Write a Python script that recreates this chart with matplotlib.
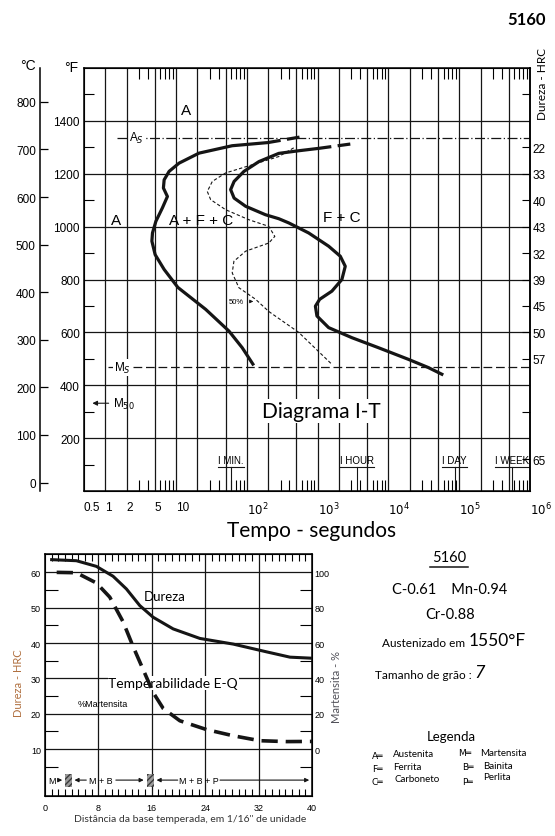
import numpy as np
import matplotlib.pyplot as plt
from matplotlib.patches import Rectangle
from matplotlib.lines import Line2D
from matplotlib.ticker import NullFormatter

W, H = 555, 837
ink = '#151515'
orig = 'Liberation Sans'   # text of the scanned chart
added = 'Lato'             # text typed over it

# ---------------- I-T diagram (time in s, temperature in F)
start_t = [199, 62, 21.1, 11.0, 7.97, 6.78, 6.62, 7.54, 6.41, 5.18, 4.64, 4.55, 5.06, 6.78, 10.6, 26.2, 55.8, 85.9, 125]
start_F = [1318, 1306, 1278, 1240, 1209, 1177, 1146, 1114, 1071, 1020, 976, 945, 894, 838, 770, 687, 605, 542, 475]
start_ext_t = [199, 595]
start_ext_F = [1318, 1340]
finish_t = [1033, 540, 282, 148, 91, 66, 59, 66, 96, 183, 282, 391, 747, 1429, 2089, 2455, 2199, 1590, 1067,
            929, 977, 1429, 3041, 7230, 19140, 36570, 59550]
finish_F = [1296, 1287, 1277, 1246, 1209, 1171, 1140, 1108, 1077, 1045, 1030, 1014, 976, 926, 888, 850, 800, 756, 725,
            699, 662, 618, 580, 542, 498, 467, 439]
finish_ext_t = [1033, 3013]
finish_ext_F = [1296, 1313]
half_t = [459, 282, 119, 50.1, 32.5, 27.6, 30.8, 50.1, 107, 204, 248, 204, 95.9, 65.6, 62.1, 77.1, 133, 204, 540, 1590]
half_F = [1298, 1265, 1234, 1203, 1171, 1133, 1102, 1064, 1026, 1001, 963, 938, 907, 869, 825, 769, 725, 679, 600, 479]

As_F, Ms_F, M50_F = 1336, 468, 332

grid_t = [1, 2, 5, 10, 20, 50, 100, 200, 500, 1e3, 2e3, 5e3, 1e4, 2e4, 5e4, 1e5, 2e5, 5e5]
xt_vals = [0.5, 1, 2, 5, 10, 1e2, 1e3, 1e4, 1e5, 1e6]
xt_lbls = ['0.5', '1', '2', '5', '10', '$10^2$', '$10^3$', '$10^4$', '$10^5$', '$10^6$']
minor_t = [m * 10.0 ** k for k in range(6) for m in (3, 4, 6, 7, 8, 9)]
F_ticks = [200, 400, 600, 800, 1000, 1200, 1400]
C_ticks = [0, 100, 200, 300, 400, 500, 600, 700, 800]
hard_F = [1300, 1200, 1100, 1000, 900, 800, 700, 600, 500, 120]
hard_lbl = ['22', '33', '40', '43', '32', '39', '45', '50', '57', '65']
period_t = [60, 3600, 86400, 560000]
period_lbl = ['I MIN.', 'I HOUR', 'I DAY', 'I WEEK']

# ---------------- Jominy curve
dist_h = [1.0, 4.7, 7.7, 10.2, 12.2, 14.2, 16.2, 19.2, 23.2, 28.2, 33.2, 36.7, 40]
hrc = [63.6, 63.3, 61.7, 58.9, 55.3, 50.6, 47.3, 44.0, 41.3, 39.7, 37.5, 36.0, 35.7]
dist_m = [1.75, 4.7, 7.7, 9.7, 11.7, 13.2, 14.7, 16.2, 17.7, 20.2, 24.2, 28.2, 32.2, 36.2, 40]
mart_pct = [100, 99.8, 94, 86, 72, 58, 45, 32, 23, 16, 11, 7.5, 4.7, 4.2, 4.3]
zone_lbl = ['M', 'M + B', 'M + B + P']
zone_pos = [1.05, 8.4, 23.0]
trans_pos = [3.5, 15.8]

legend_keys = ['A', 'F', 'C', 'M', 'B', 'P']
legend_names = ['Austenita', 'Ferrita', 'Carboneto', 'Martensita', 'Bainita', 'Perlita']

fig = plt.figure(figsize=(W / 100, H / 100), dpi=100)


def fx(x):
    return x / W


def fy(y):
    return 1 - y / H


# ================= top: I-T diagram
ax = fig.add_axes([fx(84), fy(492), 446 / W, 423 / H])
ax.set_xscale('log')
ax.set_xlim(0.5, 1e6)
ax.set_ylim(0, 1600)
for v in grid_t:
    ax.axvline(v, color=ink, lw=0.9, zorder=1)
for f in F_ticks:
    ax.axhline(f, color=ink, lw=0.9, zorder=1)
for s in ax.spines.values():
    s.set_linewidth(1.1)

ax.set_xticks(xt_vals)
ax.set_xticklabels(xt_lbls, ha='left', family=orig)
ax.set_xticks(minor_t, minor=True)
ax.xaxis.set_minor_formatter(NullFormatter())
ax.tick_params(axis='x', which='major', length=0, pad=7, labelsize=8.5)
ax.tick_params(axis='x', which='minor', direction='in', length=8, width=0.8, top=True, bottom=True)
ax.set_yticks(F_ticks)
ax.set_yticklabels([str(v) for v in F_ticks], family=orig)
ax.set_yticks(range(100, 1600, 200), minor=True)
ax.tick_params(axis='y', which='major', length=0, pad=3, labelsize=8.5)
ax.tick_params(axis='y', which='minor', direction='in', length=7, width=0.8)

axr = ax.twinx()
axr.set_ylim(0, 1600)
axr.set_yticks(hard_F)
axr.set_yticklabels(hard_lbl, family=orig)
axr.set_yticks([1500, 300], minor=True)
axr.tick_params(axis='y', which='both', direction='in', length=6, width=0.8, pad=2, labelsize=8.5)
axr.spines['right'].set_linewidth(1.1)

axc = fig.add_axes([fx(84), fy(492), 446 / W, 423 / H])
axc.patch.set_visible(False)
for k in ('top', 'right', 'bottom'):
    axc.spines[k].set_visible(False)
axc.spines['left'].set_position(('outward', 44 * 0.72))
axc.spines['left'].set_linewidth(1.1)
axc.set_xticks([])
axc.set_ylim((0 - 32) * 5 / 9, (1600 - 32) * 5 / 9)
axc.set_yticks(C_ticks)
axc.set_yticklabels([str(v) for v in C_ticks], family=orig)
axc.tick_params(axis='y', direction='in', length=6, width=0.9, pad=3, labelsize=8.5)

ax.plot(start_t, start_F, color=ink, lw=2.3, zorder=4, solid_capstyle='butt')
ax.plot(start_ext_t, start_ext_F, color=ink, lw=2.3, ls=(0, (4, 2)), zorder=4)
ax.plot(finish_t, finish_F, color=ink, lw=2.3, zorder=4, solid_capstyle='butt')
ax.plot(finish_ext_t, finish_ext_F, color=ink, lw=2.3, ls=(0, (4, 2)), zorder=4)
ax.plot(half_t, half_F, color=ink, lw=0.8, ls=(0, (3, 2)), zorder=4)

ax.plot([1.48, 1e6], [As_F, As_F], color=ink, lw=0.9, ls=(0, (8, 2, 1, 2)), zorder=3)
ax.text(2.8, As_F, 'A$_S$', ha='center', va='center', fontsize=8.5, family=orig,
        bbox=dict(facecolor='white', edgecolor='none', pad=0.5), zorder=5)
ax.plot([1.1, 1e6], [Ms_F, Ms_F], color=ink, lw=0.9, ls=(0, (7, 3)), zorder=3)
ax.text(1.75, Ms_F, 'M$_S$', ha='center', va='center', fontsize=8.5, family=orig,
        bbox=dict(facecolor='white', edgecolor='none', pad=0.5), zorder=5)
ax.annotate('', xy=(0.6, M50_F), xytext=(1.22, M50_F),
            arrowprops=dict(arrowstyle='-|>', color=ink, lw=0.8, mutation_scale=7))
ax.text(1.27, M50_F, 'M$_{50}$', ha='left', va='center', fontsize=8.5, family=orig)
ax.annotate('50%', xy=(135, 717), xytext=(72, 717), ha='center', va='center', fontsize=5.5,
            family=orig, arrowprops=dict(arrowstyle='-|>', color=ink, lw=0.6, mutation_scale=5))

for t, f, s in [(13.8, 1442, 'A'), (1.43, 1026, 'A'), (22.5, 1026, 'A + F + C'), (2178, 1038, 'F + C')]:
    ax.text(t, f, s, ha='center', va='center', fontsize=11, family=orig, zorder=5)

renderer = fig.canvas.get_renderer()
inv = ax.transData.inverted()
for t, s in zip(period_t, period_lbl):
    txt = ax.text(t, 97, s, ha='center', va='bottom', fontsize=7, family=orig, zorder=5)
    bb = txt.get_window_extent(renderer)
    (x0, _), (x1, _) = inv.transform([(bb.x0, bb.y0), (bb.x1, bb.y0)])
    ax.plot([x0, x1], [90, 90], color=ink, lw=0.8)
    ax.plot([t, t], [0, 90], color=ink, lw=0.8)

ax.text(1138, 302, 'Diagrama I-T', ha='center', va='center', fontsize=15, family=added, zorder=6,
        bbox=dict(facecolor='white', edgecolor='none', pad=1.5))

fig.text(fx(28), fy(66), '°C', ha='center', va='center', fontsize=10, family=orig)
fig.text(fx(71), fy(68), '°F', ha='center', va='center', fontsize=10, family=orig)
fig.text(fx(527), fy(20), '5160', ha='center', va='center', fontsize=12, family=added, weight='bold')
fig.text(fx(542), fy(84), 'Dureza - HRC', ha='center', va='center', rotation=90, fontsize=8.5, family=added)
fig.text(fx(312), fy(531), 'Tempo - segundos', ha='center', va='center', fontsize=15, family=added)

# ================= bottom: Jominy hardenability
ylo, yhi = -3.3, 65.2
bx = fig.add_axes([fx(45), fy(797), 267 / W, 242 / H])
bx.set_xlim(0, 40)
bx.set_ylim(ylo, yhi)
for v in [8, 16, 24, 32]:
    bx.axvline(v, color=ink, lw=0.9, zorder=1)
for v in range(10, 61, 10):
    bx.axhline(v, color=ink, lw=0.9, zorder=1)
for s in bx.spines.values():
    s.set_linewidth(1.1)
bx.set_xticks(range(0, 41, 8))
bx.set_xticklabels([str(v) for v in range(0, 41, 8)], family=orig)
bx.set_xticks(range(1, 40), minor=True)
bx.tick_params(axis='x', which='major', length=0, pad=5, labelsize=6.5)
bx.tick_params(axis='x', which='minor', direction='in', length=5, width=0.8, top=True, bottom=True)
bx.set_yticks(range(10, 61, 10))
bx.set_yticklabels([str(v) for v in range(10, 61, 10)], family=orig)
bx.set_yticks(range(5, 60, 10), minor=True)
bx.tick_params(axis='y', which='major', length=0, pad=3, labelsize=6.5)
bx.tick_params(axis='y', which='minor', direction='in', length=9, width=0.8)

bxr = bx.twinx()
bxr.set_ylim((ylo - 10) * 2, (yhi - 10) * 2)
bxr.set_yticks(range(0, 101, 20))
bxr.set_yticklabels([str(v) for v in range(0, 101, 20)], family=orig)
bxr.set_yticks(range(-10, 100, 20), minor=True)
bxr.tick_params(axis='y', which='major', length=0, pad=2, labelsize=6.5)
bxr.tick_params(axis='y', which='minor', direction='in', length=9, width=0.8)

bx.plot(dist_h, hrc, color=ink, lw=2.2, zorder=4)
bxr.plot(dist_m, mart_pct, color=ink, lw=2.6, ls=(0, (4.5, 2.2)), zorder=4)

bx.text(18, 53.3, 'Dureza', ha='center', va='center', fontsize=9.5, family=added, zorder=5)
bx.text(19.2, 28.7, 'Temperabilidade E-Q', ha='center', va='center', fontsize=10, family=added, zorder=5,
        bbox=dict(facecolor='white', edgecolor='none', pad=0.5))
bx.text(8.7, 23.0, '%Martensita', ha='center', va='center', fontsize=6.5, family=orig, zorder=5)

zy = 1.2
for p, s in zip(zone_pos, zone_lbl):
    bx.text(p, zy, s, ha='center', va='center', fontsize=6.5, family=orig, zorder=5)
for p in trans_pos:
    bx.add_patch(Rectangle((p - 0.5, -0.8), 1.0, 3.7, facecolor='#9a9a9a', edgecolor='#3a3a3a',
                           hatch='//////', lw=0, zorder=5))
arr = dict(arrowstyle='-|>', color=ink, lw=0.8, mutation_scale=6)
for a, b in [(1.7, trans_pos[0] - 0.5), (6.6, trans_pos[0] + 0.5), (10.2, trans_pos[1] - 0.6),
             (20.3, trans_pos[1] + 0.5), (25.8, 40)]:
    bx.annotate('', xy=(b, zy), xytext=(a, zy), arrowprops=arr, zorder=5)

fig.text(fx(18), fy(683), 'Dureza - HRC', ha='center', va='center', rotation=90, fontsize=8,
         family=added, color='#b07040')
fig.text(fx(337), fy(687), 'Martensita - %', ha='center', va='center', rotation=90, fontsize=8,
         family=added, color='#505058')
fig.text(fx(190), fy(820), 'Distância da base temperada, em 1/16" de unidade', ha='center', va='center',
         fontsize=7.5, family=added, color='#333333')

# ================= composition text block
fig.text(fx(449), fy(558), '5160', ha='center', va='center', fontsize=10.5, family=added)
fig.add_artist(Line2D([fx(430), fx(468)], [fy(568), fy(568)], color=ink, lw=1.1))
fig.text(fx(450), fy(590), 'C-0.61    Mn-0.94', ha='center', va='center', fontsize=10.5, family=added)
fig.text(fx(450), fy(615), 'Cr-0.88', ha='center', va='center', fontsize=10.5, family=added)
ta = fig.text(fx(382), fy(647), 'Austenizado em ', ha='left', va='baseline', fontsize=8.5, family=added)
ax.annotate('1550°F', xy=(1, 0), xycoords=ta, ha='left', va='bottom', fontsize=12.5, family=added,
            annotation_clip=False)
tt = fig.text(fx(375), fy(679), 'Tamanho de grão : ', ha='left', va='baseline', fontsize=8.5, family=added)
ax.annotate('7', xy=(1, 0), xycoords=tt, ha='left', va='bottom', fontsize=13, family=added,
            style='italic', annotation_clip=False)

fig.text(fx(451), fy(737), 'Legenda', ha='center', va='center', fontsize=9.5, family=added)
key_x = [372, 372, 372, 458, 462, 462]
key_y = [757, 770, 783, 754, 768, 783]
name_x = [393, 393, 395, 480, 483, 483]
name_y = [755, 768, 780, 753, 767, 778]
for k, n, kx, ky, nx, ny in zip(legend_keys, legend_names, key_x, key_y, name_x, name_y):
    fig.text(fx(kx), fy(ky), k + '\u2550', ha='left', va='center', fontsize=6.5, family='DejaVu Sans')
    fig.text(fx(nx), fy(ny), n, ha='left', va='center', fontsize=7, family=added)

fig.savefig('out.png', dpi=100)
